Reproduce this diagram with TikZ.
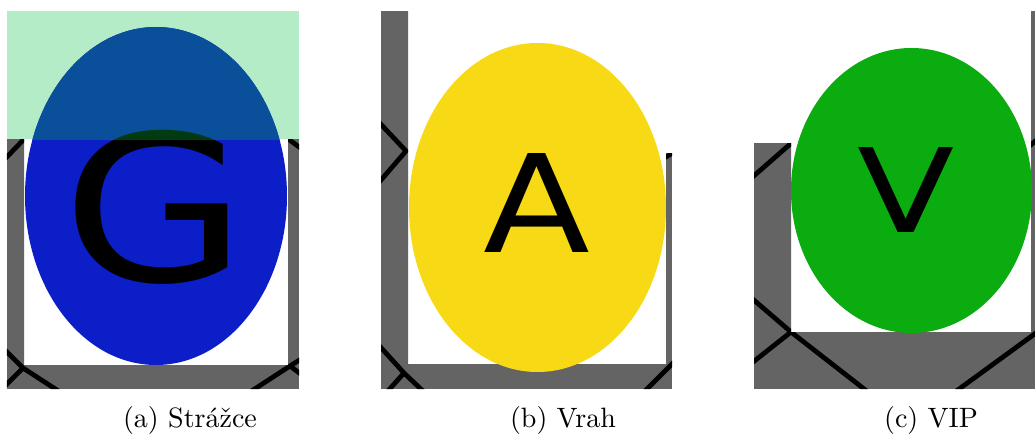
\documentclass[tikz,border=0pt]{standalone}
\usepackage{fontspec}
\usepackage{graphicx}
\newfontfamily\lettfont{DejaVu Sans}
\definecolor{wallgrey}{RGB}{100,100,100}
\definecolor{bandgreen}{RGB}{180,236,200}
\definecolor{gblue}{RGB}{11,30,200}
\definecolor{gbluedark}{RGB}{10,79,154}
\definecolor{gletterdark}{RGB}{2,58,18}
\definecolor{ayellow}{RGB}{247,217,22}
\definecolor{vgreen}{RGB}{10,172,16}
\begin{document}
\begin{tikzpicture}[x=0.357143pt,y=-0.357143pt,
  wall/.style={fill=wallgrey},
  tileline/.style={draw=black,line width=1.7pt},
  caption/.style={anchor=base,inner sep=0pt,font=\normalsize},
  letter/.style={anchor=base,inner sep=0pt,text=black}]
\useasboundingbox[fill=white] (0,0) rectangle (1035,437);

% ---------- (a) Strazce ----------
\fill[bandgreen] (7,11) rectangle (299,139);
\begin{scope}
  \clip (7,139)--(24,139)--(24,365)--(288,365)--(288,139)--(299,139)--(299,389)--(7,389)--cycle;
  \fill[wallgrey] (7,139) rectangle (299,389);
  \draw[tileline] (0,164)--(31,132);
  \draw[tileline] (280,133)--(306,152);
  \draw[tileline] (0,345)--(23,368)--(60,392);
  \draw[tileline] (0,391)--(23,368);
  \draw[tileline] (250,392)--(290,366)--(306,356);
  \draw[tileline] (290,366)--(306,378);
\end{scope}
\fill[gblue] (156,196) ellipse [x radius=131, y radius=169];
\node[letter,font=\fontsize{72.8pt}{80pt}\lettfont] (gl) at (155,281) {\scalebox{1.17}[1]{G}};
\begin{scope}
  \clip (7,11) rectangle (299,139);
  \fill[gbluedark] (156,196) ellipse [x radius=131, y radius=169];
  \node[letter,text=gletterdark,font=\fontsize{72.8pt}{80pt}\lettfont] (gl2) at (155,281) {\scalebox{1.17}[1]{G}};
\end{scope}
\node[caption] (capa) at (190,427) {(a) Strážce};

% ---------- (b) Vrah ----------
\begin{scope}
  \clip (381,11)--(408,11)--(408,364)--(666,364)--(666,153)--(672,153)--(672,389)--(381,389)--cycle;
  \fill[wallgrey] (381,11) rectangle (672,389);
  \draw[tileline] (375,118)--(406,151)--(375,187);
  \draw[tileline] (375,341)--(404,373)--(424,392);
  \draw[tileline] (404,373)--(387,392);
  \draw[tileline] (644,392)--(675,361);
  \draw[tileline] (664,158)--(678,150);
\end{scope}
\fill[ayellow] (537.5,207.5) ellipse [x radius=128.5, y radius=164.5];
\node[letter,font=\fontsize{48.5pt}{54pt}\lettfont] (al) at (537,252) {\scalebox{1.15}[1]{A}};
\node[caption] (capb) at (563,427) {(b) Vrah};

% ---------- (c) VIP ----------
\begin{scope}
  \clip (754,143)--(791,143)--(791,332)--(1031,332)--(1031,11)--(1035,11)--(1035,389)--(754,389)--cycle;
  \fill[wallgrey] (754,11) rectangle (1035,389);
  \draw[tileline] (748,181)--(796,139);
  \draw[tileline] (748,295)--(791,332)--(868,392);
  \draw[tileline] (791,332)--(748,366);
  \draw[tileline] (955,392)--(1040,330);
  \draw[tileline] (1026,149)--(1040,137);
\end{scope}
\fill[vgreen] (911.5,190.5) ellipse [x radius=120.5, y radius=142.5];
\node[letter,font=\fontsize{41.6pt}{46pt}\lettfont] (vl) at (906.5,232) {\scalebox{1.22}[1]{V}};
\node[caption] (capc) at (931,427) {(c) VIP};
\end{tikzpicture}
\end{document}
